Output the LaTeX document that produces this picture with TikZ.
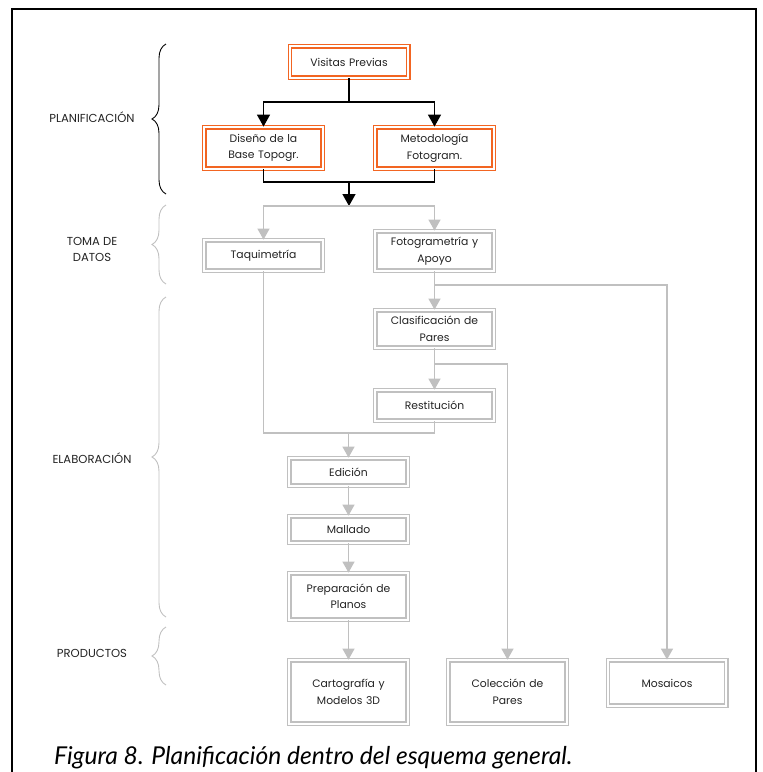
\documentclass[tikz,border=0pt]{standalone}
\usepackage{fontspec}
\setmainfont{Poppins}
\newfontfamily\capfont{Lato}
\usetikzlibrary{arrows.meta,decorations.pathreplacing,calc}
\definecolor{orng}{RGB}{242,101,34}
\definecolor{gry}{RGB}{192,192,192}
\definecolor{txt}{RGB}{35,35,35}
\begin{document}
\begin{tikzpicture}[x=1pt,y=-1pt,
  box/.style={draw=gry, double=white, line width=1.4pt, double distance=1.8pt, minimum width=118.4pt, text width=114pt, align=center, inner sep=0pt, font=\fontsize{10.8}{16.5}\selectfont, text=txt},
  obox/.style={box, draw=orng},
  blk/.style={line width=1.4pt, black},
  gl/.style={line width=1.4pt, gry},
  bt/.style={-{Triangle[length=12pt,width=13pt]}},
  gt/.style={-{Triangle[length=11pt,width=12pt]}},
  lbl/.style={font=\fontsize{11.6}{16}\selectfont, align=center, text=txt},
  brc/.style={decorate, decoration={brace, amplitude=14pt, aspect=0.5}, line width=0.9pt},
]
\useasboundingbox (0,0) rectangle (763,772);
\draw[line width=2pt] (12,780) -- (12,9) -- (756,9) -- (756,780);

% nodes
\node[obox, minimum height=31.4pt] (vp) at (349,62) {Visitas Previas};
\node[obox, minimum height=41.4pt] (dis) at (263.5,148) {Diseño de la\\Base Topogr.};
\node[obox, minimum height=41.4pt] (met) at (434.5,148) {Metodología\\Fotogram.};
\node[box, minimum height=30.4pt] (taq) at (263.5,255.5) {Taquimetría};
\node[box, minimum height=39.4pt] (fot) at (434.5,251) {Fotogrametría y\\Apoyo};
\node[box, minimum height=37.4pt] (clas) at (434.5,329) {Clasificación de\\Pares};
\node[box, minimum height=30.4pt] (rest) at (434.5,405.5) {Restitución};
\node[box, minimum height=27.4pt] (edi) at (348.5,472) {Edición};
\node[box, minimum height=26.4pt] (mal) at (348.5,529.5) {Mallado};
\node[box, minimum height=46.4pt] (prep) at (348.5,596.5) {Preparación de\\Planos};
\node[box, minimum height=63.4pt] (cart) at (348.5,692) {Cartografía y\\Modelos 3D};
\node[box, minimum height=63.4pt] (col) at (507.5,692) {Colección de\\Pares};
\node[box, minimum height=45.4pt] (mos) at (667,683) {Mosaicos};

% junctions
\coordinate (j1) at (349,102);
\coordinate (j2) at (349,182);
\coordinate (j3) at (349,206);
\coordinate (b1) at (434.5,285);
\coordinate (b2) at (434.5,364);
\coordinate (j4) at (348.5,433);

% black connectors
\draw[blk] (vp.south) -- (j1);
\draw[blk,bt] (j1) -| (dis.north);
\draw[blk,bt] (j1) -| (met.north);
\draw[blk] (dis.south) |- (j2);
\draw[blk] (met.south) |- (j2);
\draw[blk,bt] (j2) -- (j3);

% gray connectors
\draw[gl,gt] (j3) -| (taq.north);
\draw[gl,gt] (j3) -| (fot.north);
\draw[gl,gt] (fot.south) -- (clas.north);
\draw[gl,gt] (b1) -| (mos.north);
\draw[gl,gt] (clas.south) -- (rest.north);
\draw[gl,gt] (b2) -| (col.north);
\draw[gl] (taq.south) |- (j4);
\draw[gl] (rest.south) |- (j4);
\draw[gl,gt] (j4) -- (edi.north);
\draw[gl,gt] (edi.south) -- (mal.north);
\draw[gl,gt] (mal.south) -- (prep.north);
\draw[gl,gt] (prep.south) -- (cart.north);

% stage labels and braces
\node[lbl] (l1) at (92,117) {PLANIFICACIÓN};
\node[lbl] (l2) at (92,249) {TOMA DE\\DATOS};
\node[lbl] (l3) at (92,458) {ELABORACIÓN};
\node[lbl] (l4) at (92,653) {PRODUCTOS};
\draw[brc] (166,194) -- (166,44);
\draw[brc,gry] (166,284) -- (166,205);
\draw[brc,gry] (166,617) -- (166,297);
\draw[brc,gry] (166,685) -- (166,627);

% caption
\node[anchor=base west, inner sep=0pt, font=\capfont\itshape\fontsize{24.6}{28}\selectfont] (cap) at (54,764) {Figura 8. Planificación dentro del esquema general.};
\end{tikzpicture}
\end{document}
